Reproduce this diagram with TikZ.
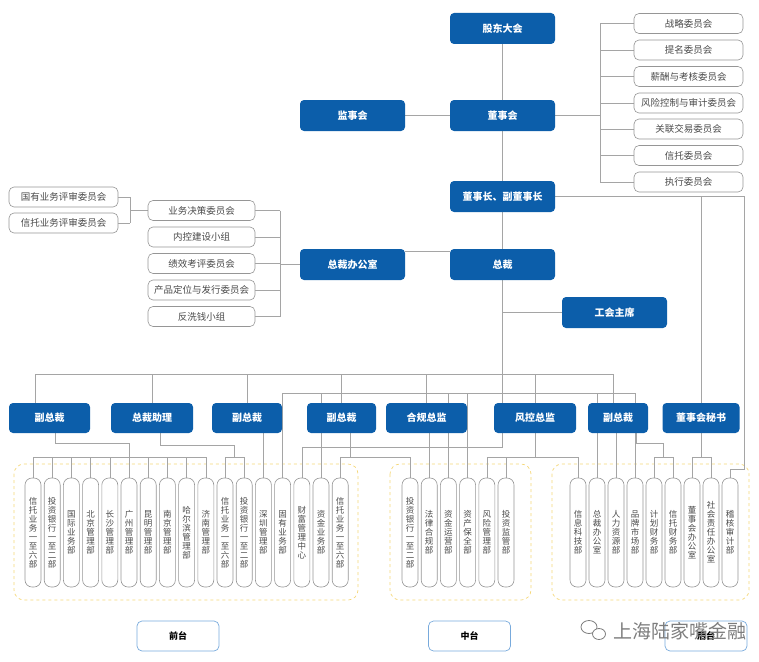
\documentclass[tikz,border=0pt]{standalone}
\usepackage{fontspec}
\setmainfont{Noto Sans CJK SC}
\usetikzlibrary{backgrounds,calc}
\definecolor{myblue}{RGB}{12,94,170}
\definecolor{lgray}{RGB}{165,165,165}
\definecolor{bgray}{RGB}{150,150,150}
\definecolor{tgray}{RGB}{75,75,75}
\definecolor{ydash}{RGB}{245,215,120}
\definecolor{lblue}{RGB}{120,170,220}
\definecolor{wm}{RGB}{125,125,125}
\begin{document}
\begin{tikzpicture}[x=1pt,y=-1pt,
  blue/.style={fill=myblue, rounded corners=4pt, text=white, font=\bfseries\fontsize{10}{12}\selectfont, minimum height=31pt, inner sep=0pt},
  cmt/.style={draw=bgray, line width=0.6pt, fill=white, rounded corners=5pt, text=tgray, font=\fontsize{9.5}{11}\selectfont, minimum height=20pt, inner sep=0pt},
  dept/.style={draw=bgray, line width=0.6pt, fill=white, rounded corners=7pt, minimum width=16pt, minimum height=109pt, inner sep=0pt, align=center, text=tgray, font=\fontsize{8.5}{9}\selectfont},
  grp/.style={draw=ydash, dashed, line width=0.7pt, rounded corners=10pt},
  ln/.style={draw=lgray, line width=0.6pt},
  tag/.style={draw=lblue, line width=0.7pt, rounded corners=5pt, minimum width=82pt, minimum height=30pt, font=\bfseries\fontsize{9}{11}\selectfont, inner sep=0pt}
]
\useasboundingbox (0,0) rectangle (759,661);

% top level
\node[blue, minimum width=105pt] (gd) at (502.5,28.5) {股东大会};
\node[blue, minimum width=105pt] (dsh) at (502.5,115.5) {董事会};
\node[blue, minimum width=105pt] (jsh) at (352.5,115.5) {监事会};
\node[blue, minimum width=105pt] (dsz) at (502.5,196.5) {董事长、副董事长};
\node[blue, minimum width=105pt] (zbo) at (352.5,264.5) {总裁办公室};
\node[blue, minimum width=105pt] (zc) at (502.5,264.5) {总裁};
\node[blue, minimum width=105pt] (gh) at (614.5,312.5) {工会主席};

% board committees
\node[cmt, minimum width=109pt] (k1) at (688.5,23.5) {战略委员会};
\node[cmt, minimum width=109pt] (k2) at (688.5,50) {提名委员会};
\node[cmt, minimum width=109pt] (k3) at (688.5,76.5) {薪酬与考核委员会};
\node[cmt, minimum width=109pt] (k4) at (688.5,103) {风险控制与审计委员会};
\node[cmt, minimum width=109pt] (k5) at (688.5,129) {关联交易委员会};
\node[cmt, minimum width=109pt] (k6) at (688.5,155.5) {信托委员会};
\node[cmt, minimum width=109pt] (k7) at (688.5,182) {执行委员会};

% president office committees
\node[cmt, minimum width=107pt] (p1) at (201.5,210.5) {业务决策委员会};
\node[cmt, minimum width=107pt] (p2) at (201.5,237) {内控建设小组};
\node[cmt, minimum width=107pt] (p3) at (201.5,263.5) {绩效考评委员会};
\node[cmt, minimum width=107pt] (p4) at (201.5,290) {产品定位与发行委员会};
\node[cmt, minimum width=107pt] (p5) at (201.5,316.5) {反洗钱小组};
\node[cmt, minimum width=109pt] (q1) at (63.5,197) {国有业务评审委员会};
\node[cmt, minimum width=109pt] (q2) at (63.5,223) {信托业务评审委员会};

% managers
\node[blue, minimum width=81pt, minimum height=30pt] (m1) at (49.5,418) {副总裁};
\node[blue, minimum width=82pt, minimum height=30pt] (m2) at (152,418) {总裁助理};
\node[blue, minimum width=70pt, minimum height=30pt] (m3) at (247,418) {副总裁};
\node[blue, minimum width=69pt, minimum height=30pt] (m4) at (341.5,418) {副总裁};
\node[blue, minimum width=81pt, minimum height=30pt] (m5) at (426.5,418) {合规总监};
\node[blue, minimum width=82pt, minimum height=30pt] (m6) at (535,418) {风控总监};
\node[blue, minimum width=60pt, minimum height=30pt] (m7) at (618,418) {副总裁};
\node[blue, minimum width=77pt, minimum height=30pt] (m8) at (701,418) {董事会秘书};

% front departments
\node[dept] (L1) at (33,532.5) {信\\托\\业\\务\\一\\至\\六\\部};
\node[dept] (L2) at (52.2,532.5) {投\\资\\银\\行\\一\\至\\二\\部};
\node[dept] (L3) at (71.4,532.5) {国\\际\\业\\务\\部};
\node[dept] (L4) at (90.6,532.5) {北\\京\\管\\理\\部};
\node[dept] (L5) at (109.8,532.5) {长\\沙\\管\\理\\部};
\node[dept] (L6) at (129,532.5) {广\\州\\管\\理\\部};
\node[dept] (L7) at (148.2,532.5) {昆\\明\\管\\理\\部};
\node[dept] (L8) at (167.4,532.5) {南\\京\\管\\理\\部};
\node[dept] (L9) at (186.6,532.5) {哈\\尔\\滨\\管\\理\\部};
\node[dept] (L10) at (205.8,532.5) {济\\南\\管\\理\\部};
\node[dept] (L11) at (225,532.5) {信\\托\\业\\务\\一\\至\\六\\部};
\node[dept] (L12) at (244.2,532.5) {投\\资\\银\\行\\一\\至\\二\\部};
\node[dept] (L13) at (263.4,532.5) {深\\圳\\管\\理\\部};
\node[dept] (L14) at (282.6,532.5) {固\\有\\业\\务\\部};
\node[dept] (L15) at (301.8,532.5) {财\\富\\管\\理\\中\\心};
\node[dept] (L16) at (321,532.5) {资\\金\\业\\务\\部};
\node[dept] (L17) at (340.2,532.5) {信\\托\\业\\务\\一\\至\\六\\部};

% middle departments
\node[dept] (C1) at (410,532.5) {投\\资\\银\\行\\一\\至\\二\\部};
\node[dept] (C2) at (429.2,532.5) {法\\律\\合\\规\\部};
\node[dept] (C3) at (448.4,532.5) {资\\金\\运\\营\\部};
\node[dept] (C4) at (467.6,532.5) {资\\产\\保\\全\\部};
\node[dept] (C5) at (486.8,532.5) {风\\险\\管\\理\\部};
\node[dept] (C6) at (506,532.5) {投\\资\\监\\管\\部};

% back departments
\node[dept] (R1) at (578,532.5) {信\\息\\科\\技\\部};
\node[dept] (R2) at (597,532.5) {总\\裁\\办\\公\\室};
\node[dept] (R3) at (616,532.5) {人\\力\\资\\源\\部};
\node[dept] (R4) at (635,532.5) {品\\牌\\市\\场\\部};
\node[dept] (R5) at (654,532.5) {计\\划\\财\\务\\部};
\node[dept] (R6) at (673,532.5) {信\\托\\财\\务\\部};
\node[dept] (R7) at (692,532.5) {董\\事\\会\\办\\公\\室};
\node[dept] (R8) at (711,532.5) {社\\会\\责\\任\\办\\公\\室};
\node[dept] (R9) at (730,532.5) {稽\\核\\审\\计\\部};

% tags
\node[tag] (t1) at (178,636) {前台};
\node[tag] (t2) at (469.5,636) {中台};
\node[tag] (t3) at (706,636) {后台};

% watermark
\draw[wm, line width=0.8pt, fill=white] (589,627) ellipse (8pt and 6.5pt);
\draw[wm, line width=0.8pt, fill=white] (599,634) ellipse (6.5pt and 5.5pt);
\node[font=\fontsize{19}{22}\selectfont, text=wm] (wmk) at (680,631) {上海陆家嘴金融};

\begin{pgfonlayer}{background}
\draw[grp] (14,464) rectangle (358,600);
\draw[grp] (390,464) rectangle (531,600);
\draw[grp] (552,464) rectangle (749,600);
\coordinate (rb) at (600,0);
\coordinate (lb) at (280,0);
\coordinate (fb) at (130,0);
\coordinate (bus1) at (0,374);
\coordinate (bus2) at (0,393);
\coordinate (bus3) at (0,457);
\coordinate (lvl) at (0,447);
\coordinate (rr) at (744,0);
\coordinate (b1L) at (35,374);
\coordinate (b1R) at (613,374);

\draw[ln] (gd) -- (dsh);
\draw[ln] (jsh) -- (dsh);
\draw[ln] (dsh) -- (dsz);
\draw[ln] (dsz) -- (zc);
\draw[ln] (dsh.east) -- (rb |- dsh.east);
\draw[ln] (rb |- k1.west) -- (rb |- k7.west);
\foreach \k in {1,...,7} \draw[ln] (rb |- k\k.west) -- (k\k.west);

\draw[ln] ([yshift=13.5pt]zbo.east) -- ([yshift=13.5pt]zc.west);
\draw[ln] (zbo.west) -- (lb |- zbo.west);
\draw[ln] (lb |- p1.east) -- (lb |- p5.east);
\foreach \k in {1,...,5} \draw[ln] (p\k.east) -- (lb |- p\k.east);
\draw[ln] (fb |- q1.east) -- (fb |- q2.east);
\draw[ln] (q1.east) -- (fb |- q1.east);
\draw[ln] (q2.east) -- (fb |- q2.east);
\draw[ln] (fb |- p1.west) -- (p1.west);

\draw[ln] (zc.south) -- (zc.south |- lvl) -| (L15.north);
\draw[ln] (b1L) -- (b1R);
\draw[ln] (m1.north -| b1L) -- (b1L);
\foreach \m in {2,3,4,5,6} \draw[ln] (m\m.north) -- (m\m.north |- bus1);
\draw[ln] (m7.north -| b1R) -- (b1R);
\draw[ln] (zc.south |- gh.west) -- (gh.west);

\draw[ln] (L14.north |- bus2) -- (R4.north |- bus2);
\foreach \d in {L14,L16,C3,C4,R2,R4} \draw[ln] (\d.north) -- (\d.north |- bus2);

\draw[ln] ([xshift=5.5pt]m1.south) -- ++(0,10) -| (L6.north |- bus3);
\draw[ln] (L1.north |- bus3) -- (L10.north |- bus3);
\foreach \k in {1,...,10} \draw[ln] (L\k.north) -- (L\k.north |- bus3);

\coordinate (m2j) at ($(L11.north)!0.5!(L12.north)$);
\draw[ln] ([xshift=8pt]m2.south) -- ++(0,12) -| (m2j |- bus3);
\draw[ln] (L11.north |- bus3) -- (L12.north |- bus3);
\foreach \d in {L11,L12} \draw[ln] (\d.north) -- (\d.north |- bus3);

\draw[ln] (L13.north |- m3.south) -- (L13.north);

\draw[ln] ([xshift=8.5pt]m4.south) -- ([xshift=8.5pt]m4.south |- bus3);
\draw[ln] (L17.north |- bus3) -- (C1.north |- bus3);
\foreach \d in {L17,C1} \draw[ln] (\d.north) -- (\d.north |- bus3);

\draw[ln] (C2.north |- m5.south) -- (C2.north);

\draw[ln] (m6.south) -- (m6.south |- bus3);
\draw[ln] (C5.north |- bus3) -- (R1.north |- bus3);
\foreach \d in {C5,C6,R1} \draw[ln] (\d.north) -- (\d.north |- bus3);

\draw[ln] (R3.north |- m7.south) -- (R3.north);
\coordinate (m7j) at ($(R5.north)!0.5!(R6.north)$);
\draw[ln] ([xshift=18pt]m7.south) -- ++(0,10) -| (m7j |- bus3);
\draw[ln] (R5.north |- bus3) -- (R6.north |- bus3);
\foreach \d in {R5,R6} \draw[ln] (\d.north) -- (\d.north |- bus3);

\draw[ln] (m8.north) -- (m8.north |- dsz.east);
\draw[ln] (m8.south) -- (m8.south |- bus3);
\draw[ln] (R7.north |- bus3) -- (R8.north |- bus3);
\foreach \d in {R7,R8} \draw[ln] (\d.north) -- (\d.north |- bus3);

\draw[ln] (dsz.east) -| ($(R9.north -| rr)+(0,-8)$) -| (R9.north);
\end{pgfonlayer}
\end{tikzpicture}
\end{document}
